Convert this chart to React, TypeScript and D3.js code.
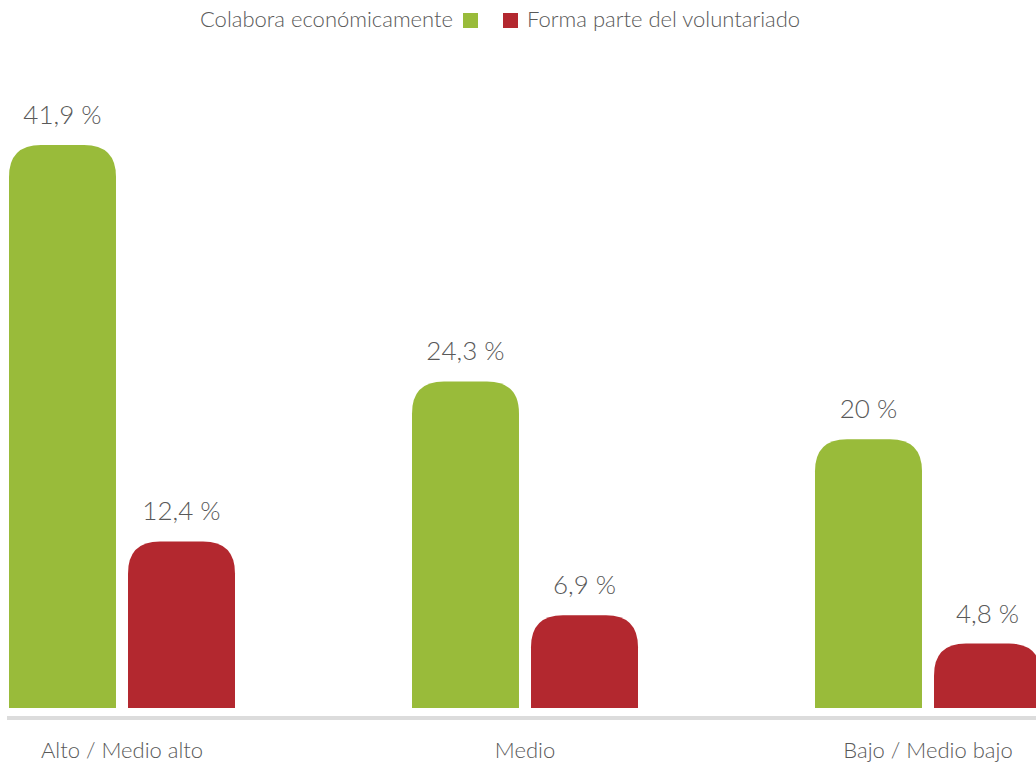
import React from "react";
import * as d3 from "d3";

const categories = ["Alto / Medio alto", "Medio", "Bajo / Medio bajo"];
const seriesNames = ["Colabora económicamente", "Forma parte del voluntariado"];
const colabora = [41.9, 24.3, 20];
const voluntariado = [12.4, 6.9, 4.8];
const valueLabels = [
  ["41,9 %", "12,4 %"],
  ["24,3 %", "6,9 %"],
  ["20 %", "4,8 %"],
];
const colors = ["#99bb3a", "#b3282f"];

const W = 1036;
const H = 766;
const base = 708;
const font = "Lato, 'Open Sans', sans-serif";

// path for a bar with rounded top corners only
const topRounded = (x: number, y: number, w: number, h: number, r: number) => {
  const rr = Math.min(r, h, w / 2);
  return `M${x},${y + h}V${y + rr}Q${x},${y} ${x + rr},${y}H${x + w - rr}Q${x + w},${y} ${x + w},${y + rr}V${y + h}Z`;
};

export default function App() {
  const x0 = d3.scaleBand<string>().domain(categories).range([-79.5, -79.5 + 403 * 3]);
  const x1 = d3.scaleBand<string>().domain(seriesNames).range([0, 226]).paddingInner(0.101);
  const y = d3.scaleLinear().domain([0, 41.9]).range([base, 145]);
  const values = [colabora, voluntariado];

  return (
    <svg
      width={W}
      height={H}
      style={{ position: "fixed", left: 0, top: 0, background: "#fff" }}
      fontFamily={font}
    >
      {/* legend */}
      <g fill="#595959" fontSize={22} fontWeight={300}>
        <text x={453} y={27} textAnchor="end">{seriesNames[0]}</text>
        <rect x={463} y={13} width={15} height={15} fill={colors[0]} />
        <rect x={503} y={13} width={15} height={15} fill={colors[1]} />
        <text x={527} y={27}>{seriesNames[1]}</text>
      </g>

      {categories.map((c, ci) => {
        const gx = (x0(c) ?? 0) + x0.bandwidth() / 2 - 113;
        return (
          <g key={c} transform={`translate(${gx},0)`}>
            {seriesNames.map((s, si) => {
              const v = values[si][ci];
              const bx = x1(s) ?? 0;
              const bw = x1.bandwidth();
              const top = y(v);
              return (
                <g key={s}>
                  <path d={topRounded(bx, top, bw, base - top, 32)} fill={colors[si]} />
                  <text
                    x={bx + bw / 2}
                    y={top - 21}
                    textAnchor="middle"
                    fontSize={26}
                    fontWeight={300}
                    fill="#595959"
                  >
                    {valueLabels[ci][si]}
                  </text>
                </g>
              );
            })}
            <text x={113} y={758} textAnchor="middle" fontSize={22} fontWeight={300} fill="#595959">
              {c}
            </text>
          </g>
        );
      })}

      <rect x={7} y={716} width={W - 7} height={4} fill="#dcdcdc" />
    </svg>
  );
}
